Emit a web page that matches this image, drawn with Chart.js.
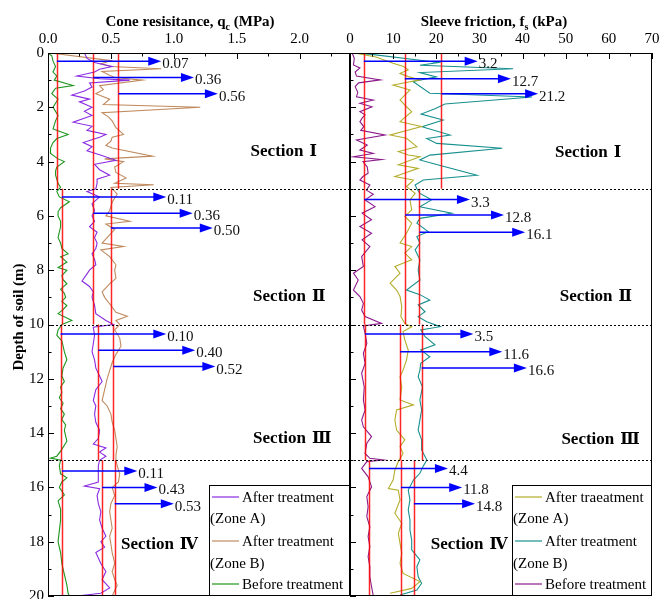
<!DOCTYPE html>
<html><head><meta charset="utf-8">
<script src="https://cdn.jsdelivr.net/npm/chart.js@4.4.1/dist/chart.umd.min.js"></script>
<style>
html,body{margin:0;padding:0;background:#fff;}
#wrap{position:relative;width:660px;height:599px;background:#fff;}
canvas{position:absolute;left:0;top:0;}
</style></head><body>
<div id="wrap"><canvas id="c1" width="660" height="599"></canvas><canvas id="c2" width="660" height="599"></canvas></div>
<script>
// ---------------- DATA ----------------
// depth sections (m)
const sectionTops = [0, 5, 10, 15];
const sectionBottoms = [5, 10, 15, 20];
const sectionWord = 'Section';
const sectionNumerals = ['Ⅰ', 'Ⅱ', 'Ⅲ', 'Ⅳ'];

// Cone resistance qc (MPa) profiles: [depth m, value]
const qcZoneA = [[0,0.29],[0.2,0.31],[0.35,0.37],[0.5,0.51],[0.6,0.41],[0.7,0.37],[0.85,0.23],[0.95,0.41],[1.0,0.65],[1.1,0.33],[1.25,0.35],[1.4,0.29],[1.55,0.19],[1.7,0.33],[1.8,0.25],[2.0,0.35],[2.15,0.29],[2.3,0.35],[2.55,0.2],[2.7,0.35],[2.85,0.31],[3.0,0.46],[3.1,0.41],[3.3,0.28],[3.45,0.35],[3.6,0.31],[3.75,0.41],[3.95,0.54],[4.1,0.37],[4.3,0.41],[4.5,0.49],[4.65,0.39],[4.8,0.39],[5.0,0.38],
 [5.1,0.31],[5.3,0.41],[5.55,0.35],[5.8,0.37],[6.0,0.35],[6.2,0.37],[6.4,0.33],[6.6,0.39],[6.8,0.37],[7.0,0.39],[7.2,0.38],[7.4,0.35],[7.6,0.37],[7.8,0.38],[8.0,0.33],[8.2,0.3],[8.4,0.27],[8.6,0.33],[8.8,0.36],[9.0,0.35],[9.3,0.37],[9.6,0.38],[9.85,0.46],[10.0,0.52],
 [10.1,0.36],[10.4,0.37],[10.7,0.36],[11.0,0.35],[11.3,0.37],[11.6,0.38],[11.9,0.41],[12.1,0.43],[12.4,0.38],[12.8,0.36],[13.0,0.38],[13.3,0.37],[13.6,0.38],[13.9,0.41],[14.2,0.4],[14.4,0.36],[14.55,0.46],[14.7,0.41],[14.85,0.46],[15.0,0.41],
 [15.2,0.4],[15.5,0.4],[15.8,0.4],[15.95,0.29],[16.05,0.41],[16.3,0.39],[16.6,0.4],[16.9,0.42],[17.2,0.41],[17.5,0.43],[17.8,0.46],[18.0,0.42],[18.2,0.45],[18.4,0.38],[18.6,0.4],[18.8,0.42],[19.1,0.46],[19.4,0.43],[19.7,0.49],[19.9,0.42],[20.0,0.23]];

const qcZoneB = [[0,0.02],[0.28,0.5],[0.4,0.42],[0.5,0.5],[0.58,0.9],[0.68,0.43],[0.8,0.48],[0.9,0.53],[1.0,0.75],[1.2,0.41],[1.35,0.44],[1.5,0.38],[1.7,0.49],[1.9,0.44],[2.0,1.21],[2.2,0.43],[2.35,0.48],[2.5,0.51],[2.75,0.54],[3.0,0.6],[3.1,0.51],[3.25,0.5],[3.4,0.46],[3.5,0.51],[3.8,0.83],[3.9,0.45],[4.0,0.6],[4.2,0.53],[4.4,0.54],[4.6,0.62],[4.8,0.53],[4.85,0.84],[4.95,0.5],[5.0,0.51],
 [5.2,0.55],[5.5,0.51],[5.8,0.49],[6.0,0.46],[6.2,0.65],[6.3,0.46],[6.5,0.53],[6.7,0.49],[7.0,0.43],[7.13,0.6],[7.25,0.42],[7.5,0.49],[7.8,0.54],[8.0,0.53],[8.3,0.54],[8.5,0.49],[8.8,0.43],[9.0,0.45],[9.3,0.5],[9.55,0.54],[9.7,0.63],[9.85,0.54],[10.0,0.57],
 [10.2,0.53],[10.5,0.57],[10.8,0.58],[11.1,0.54],[11.4,0.51],[11.7,0.49],[12.0,0.47],[12.4,0.45],[12.8,0.43],[13.0,0.47],[13.3,0.5],[13.6,0.51],[13.9,0.53],[14.2,0.54],[14.5,0.55],[14.8,0.54],[15.0,0.54],
 [15.2,0.55],[15.5,0.57],[15.8,0.56],[16.0,0.51],[16.3,0.53],[16.6,0.5],[16.9,0.49],[17.2,0.5],[17.5,0.51],[17.8,0.49],[18.1,0.5],[18.4,0.51],[18.8,0.53],[19.1,0.51],[19.4,0.53],[19.6,0.55],[19.8,0.53],[20.0,0.51]];

const qcBefore = [[0,0.0],[0.1,0.03],[0.3,0.04],[0.5,0.06],[0.7,0.04],[0.85,0.07],[1.0,0.05],[1.2,0.2],[1.3,0.06],[1.5,0.03],[1.7,0.08],[1.85,0.06],[2.0,0.04],[2.15,0.06],[2.3,0.08],[2.5,0.06],[2.65,0.05],[2.8,0.04],[3.0,0.16],[3.15,0.07],[3.3,0.04],[3.5,0.02],[3.7,0.02],[3.9,0.08],[4.0,0.13],[4.2,0.07],[4.35,0.06],[4.5,0.06],[4.65,0.07],[4.8,0.08],[4.95,0.1],
 [5.1,0.07],[5.3,0.09],[5.48,0.17],[5.7,0.1],[5.85,0.08],[6.0,0.08],[6.2,0.1],[6.4,0.1],[6.6,0.09],[6.8,0.08],[7.0,0.1],[7.2,0.11],[7.4,0.16],[7.5,0.1],[7.7,0.15],[7.9,0.08],[8.0,0.15],[8.2,0.11],[8.35,0.12],[8.5,0.15],[8.7,0.1],[8.85,0.13],[9.0,0.14],[9.15,0.11],[9.3,0.15],[9.45,0.12],[9.6,0.08],[9.85,0.19],[10.0,0.11],
 [10.2,0.08],[10.4,0.07],[10.6,0.11],[10.8,0.12],[11.0,0.13],[11.3,0.15],[11.6,0.12],[11.9,0.11],[12.1,0.13],[12.3,0.1],[12.5,0.11],[12.7,0.09],[12.9,0.12],[13.1,0.1],[13.3,0.13],[13.5,0.11],[13.7,0.14],[13.9,0.13],[14.1,0.14],[14.3,0.15],[14.6,0.11],[14.85,0.07],[14.92,0.02],[15.0,0.1],
 [15.2,0.09],[15.5,0.1],[15.65,0.15],[15.8,0.11],[16.0,0.09],[16.28,0.13],[16.5,0.08],[16.8,0.1],[17.2,0.1],[17.6,0.09],[18.0,0.08],[18.4,0.1],[18.8,0.11],[19.2,0.13],[19.6,0.15],[19.9,0.16],[20.0,0.17]];

// Sleeve friction fs (kPa) profiles: [depth m, value]
const fsZoneA = [[0,1],[0.15,6],[0.38,10],[0.5,12.4],[0.62,13.5],[0.75,11.6],[0.87,13.5],[0.99,16.2],[1.18,10],[1.36,13.9],[1.73,11.6],[1.98,13.1],[2.16,14.3],[2.53,11.6],[2.71,16.6],[3.02,9.3],[3.14,13.1],[3.45,15.5],[3.63,11.2],[3.76,13.5],[3.82,16.2],[4.12,11.2],[4.25,15.8],[4.55,10.4],[4.68,14.7],[4.92,13.1],
 [5.17,15.1],[5.41,13.9],[5.78,14.3],[6.02,12.7],[6.27,14.3],[6.64,13.1],[7.0,11.6],[7.13,14.3],[7.37,12.7],[7.62,14.3],[7.86,10.4],[8.11,11.6],[8.48,9.3],[8.73,10.8],[8.97,11.6],[9.34,12],[9.71,11.8],[9.96,12.7],[10.08,14.3],[10.26,12.3],
 [10.57,12.7],[10.94,13.5],[11.31,13.1],[11.68,12.3],[11.92,11.6],[12.3,12],[12.78,11.6],[12.96,14.7],[13.15,10.8],[13.52,10.4],[13.89,10.8],[14.25,12.7],[14.5,11.6],[14.75,12.3],[15.05,11.2],
 [15.36,10.4],[15.73,10],[16.04,8.9],[16.1,11.2],[16.46,11.6],[16.95,10.4],[17.32,12],[17.69,11.2],[18.06,11.6],[18.43,12],[18.8,11.6],[19.17,12.3],[19.47,16.2],[19.72,14.3],[19.9,9.3]];

const fsZoneB = [[0,1],[0.05,5],[0.35,20.5],[0.45,16.2],[0.58,37.8],[0.72,16.2],[0.88,20],[1.05,14.6],[1.48,18.5],[1.62,42.2],[1.88,22],[2.05,19.7],[2.25,16.5],[2.47,21.6],[2.72,16.7],[3.02,23.2],[3.15,17.8],[3.33,20.1],[3.51,35.3],[3.76,18.5],[3.94,16.2],[4.06,19],[4.5,29.4],[4.68,17],[4.86,15.1],[5.0,15.5],
 [5.17,16.2],[5.41,18.9],[5.66,16.2],[5.9,23.6],[6.09,16.2],[6.27,15.5],[6.58,18.1],[6.76,15.5],[7.0,16.2],[7.25,15.1],[7.62,16.2],[7.99,15.8],[8.36,16.2],[8.73,13.1],[8.9,16.2],[9.1,18.5],[9.28,15.8],[9.53,17.4],[9.71,15.8],[9.9,17.8],[10.08,20.9],[10.2,16.4],
 [10.45,17.4],[10.75,19.7],[10.94,16.4],[11.19,18.5],[11.43,16.4],[11.68,16.2],[11.92,15.8],[12.3,16.8],[12.78,16.2],[13.15,16.6],[13.52,16.2],[13.89,15.8],[14.25,16.6],[14.62,16.6],[14.99,17.8],[15.24,16.9],
 [15.48,16.2],[15.73,14.7],[16.1,13.5],[16.46,13.9],[16.83,13.5],[17.2,13.9],[17.57,13.9],[17.94,14.3],[18.3,14.3],[18.67,16.2],[18.92,15.5],[19.29,15.8],[19.53,16.6],[19.78,15.5],[19.96,11.6]];

const fsBefore = [[0,0.5],[0.2,1],[0.44,0.8],[0.55,2.3],[0.7,1.2],[0.85,1.5],[0.99,7],[1.1,2],[1.24,1.2],[1.45,1.8],[1.61,1.5],[1.73,5.4],[1.85,2.3],[1.98,5.1],[2.16,2.3],[2.28,3.5],[2.4,2.8],[2.53,2.3],[2.71,3.2],[2.85,2.5],[3.02,8.1],[3.2,1.5],[3.39,4],[3.57,2.3],[3.7,5.4],[3.82,0.8],[3.92,7.3],[4.0,3],[4.2,4],[4.43,4.2],[4.55,3],[4.68,2.3],[4.86,4.6],[5.05,3.8],
 [5.2,5.4],[5.41,3.5],[5.66,5.8],[5.9,2.8],[6.14,5],[6.39,2.3],[6.64,5],[6.88,2.8],[7.13,4.6],[7.5,2.7],[7.86,3.1],[8.11,0.8],[8.36,1.9],[8.73,0.8],[8.97,2.3],[9.22,3.1],[9.47,2.7],[9.71,3.5],[9.96,7.3],[10.05,3.1],
 [10.33,3.5],[10.7,3.9],[11.06,3.1],[11.43,3.5],[11.8,2.7],[12.3,3.3],[12.78,3.1],[13.15,3.5],[13.52,2.7],[13.77,3.1],[14.13,5],[14.37,3.9],[14.75,3.5],[14.93,4.6],[14.99,7.7],[15.05,3.9],[15.3,2.7],
 [15.61,4.2],[15.98,5],[16.34,3.9],[16.71,4.2],[17.08,3.9],[17.45,4.6],[17.81,4.2],[18.18,4.6],[18.55,4.2],[18.92,4.6],[19.29,4.6],[19.66,5],[20.0,5.4]];

// Section averages (red lines) and arrow annotations
const qcAvgBefore = [0.07, 0.11, 0.10, 0.11];
const qcAvgA      = [0.36, 0.36, 0.40, 0.43];
const qcAvgB      = [0.56, 0.50, 0.52, 0.53];
const qcArrowDepthBefore = [0.3, 5.3, 10.35, 15.4];
const qcArrowDepthA      = [0.9, 5.9, 10.95, 16.0];
const qcArrowDepthB      = [1.5, 6.45, 11.55, 16.6];
const qcArrowEndBefore = [0.9, 0.94, 0.94, 0.71];
const qcArrowEndA      = [1.16, 1.15, 1.17, 0.87];
const qcArrowEndB      = [1.35, 1.31, 1.33, 1.0];

const fsAvgBefore = [3.2, 3.3, 3.5, 4.4];
const fsAvgA      = [12.7, 12.8, 11.6, 11.8];
const fsAvgB      = [21.2, 16.1, 16.6, 14.8];
const fsArrowDepthBefore = [0.3, 5.4, 10.35, 15.3];
const fsArrowDepthA      = [0.95, 5.97, 11.0, 16.0];
const fsArrowDepthB      = [1.5, 6.6, 11.6, 16.6];
const fsArrowEndBefore = [29.6, 27.8, 28.6, 22.7];
const fsArrowEndA      = [37.3, 35.7, 35.3, 26];
const fsArrowEndB      = [43.6, 40.6, 41, 29];

// ---------------- DRAWING ----------------
const SERIF = '"Liberation Serif", "Times New Roman", serif';
const toXY = arr => arr.map(p => ({x: p[1], y: p[0]}));

function drawArrow(ctx, x0, x1, y) {
  ctx.save();
  ctx.strokeStyle = '#0000ff'; ctx.fillStyle = '#0000ff'; ctx.lineWidth = 1.5;
  ctx.beginPath(); ctx.moveTo(x0, y); ctx.lineTo(x1 - 10, y); ctx.stroke();
  ctx.beginPath(); ctx.moveTo(x1, y); ctx.lineTo(x1 - 13, y - 4.5); ctx.lineTo(x1 - 13, y + 4.5); ctx.closePath(); ctx.fill();
  ctx.restore();
}

function makePlugin(p) {
  return {
    id: 'panel' + p.id,
    afterDatasetsDraw(chart) {
      const ctx = chart.ctx, xs = chart.scales.x, ys = chart.scales.y, a = chart.chartArea;
      // red section-average lines
      ctx.save();
      ctx.strokeStyle = 'rgba(255,0,0,0.85)'; ctx.lineWidth = 1.5;
      for (let i = 0; i < sectionTops.length; i++) {
        [p.avgBefore, p.avgA, p.avgB].forEach(arr => {
          const x = Math.round(xs.getPixelForValue(arr[i])) + 0.5;
          ctx.beginPath(); ctx.moveTo(x, ys.getPixelForValue(sectionTops[i])); ctx.lineTo(x, ys.getPixelForValue(sectionBottoms[i])); ctx.stroke();
        });
      }
      ctx.restore();
      // dotted section boundaries
      ctx.save();
      ctx.strokeStyle = '#000'; ctx.lineWidth = 1; ctx.setLineDash([2, 2]);
      [5, 10, 15].forEach(d => {
        const y = Math.round(ys.getPixelForValue(d)) + 0.5;
        ctx.beginPath(); ctx.moveTo(a.left, y); ctx.lineTo(a.right, y); ctx.stroke();
      });
      ctx.restore();
      // arrows and labels
      ctx.save();
      ctx.font = '15px ' + SERIF; ctx.fillStyle = '#111'; ctx.textBaseline = 'middle'; ctx.textAlign = 'left';
      for (let i = 0; i < sectionTops.length; i++) {
        [[p.avgBefore, p.depBefore, p.endBefore], [p.avgA, p.depA, p.endA], [p.avgB, p.depB, p.endB]].forEach(g => {
          const y = ys.getPixelForValue(g[1][i]);
          const x0 = xs.getPixelForValue(g[0][i]), x1 = xs.getPixelForValue(g[2][i]);
          drawArrow(ctx, x0, x1, y);
          ctx.fillText(g[0][i].toFixed(p.digits), x1 + 1, y + 3);
        });
      }
      ctx.restore();
    },
    afterDraw(chart) {
      const ctx = chart.ctx, xs = chart.scales.x, ys = chart.scales.y, a = chart.chartArea;
      ctx.save();
      ctx.strokeStyle = '#000'; ctx.lineWidth = 1;
      // inner tick marks
      for (let v = 0; v <= p.xmax + 1e-9; v += p.xstep / 2) {
        const major = Math.abs(Math.round(v / p.xstep) * p.xstep - v) < 1e-6;
        const x = Math.round(xs.getPixelForValue(v)) + 0.5;
        ctx.beginPath(); ctx.moveTo(x, a.top); ctx.lineTo(x, a.top + (major ? 6 : 3.5)); ctx.stroke();
      }
      for (let d = 0; d <= 20; d += 1) {
        const y = Math.round(ys.getPixelForValue(d)) + 0.5;
        ctx.beginPath(); ctx.moveTo(a.left, y); ctx.lineTo(a.left + (d % 2 === 0 ? 6 : 3.5), y); ctx.stroke();
      }
      // frame
      ctx.strokeRect(a.left + 0.5, a.top + 0.5, a.right - a.left - 1, a.bottom - a.top - 1);
      ctx.restore();

      // axis title with subscript
      ctx.save();
      ctx.fillStyle = '#000'; ctx.textBaseline = 'alphabetic'; ctx.textAlign = 'left';
      const fMain = 'bold 15px ' + SERIF, fSub = 'bold 10px ' + SERIF;
      ctx.font = fMain; const w1 = ctx.measureText(p.title[0]).width, w3 = ctx.measureText(p.title[2]).width;
      ctx.font = fSub; const w2 = ctx.measureText(p.title[1]).width;
      let tx = p.titleX - (w1 + w2 + w3) / 2;
      ctx.font = fMain; ctx.fillText(p.title[0], tx, 26);
      ctx.font = fSub; ctx.fillText(p.title[1], tx + w1, 30);
      ctx.font = fMain; ctx.fillText(p.title[2], tx + w1 + w2, 26);
      ctx.restore();

      if (p.yTitle) {
        ctx.save();
        ctx.translate(19, 317); ctx.rotate(-Math.PI / 2);
        ctx.font = 'bold 15px ' + SERIF; ctx.fillStyle = '#000'; ctx.textAlign = 'center'; ctx.textBaseline = 'middle';
        ctx.fillText(p.yTitle, 0, 0);
        ctx.restore();
      }

      // section labels: word + numeral
      ctx.save();
      ctx.fillStyle = '#000'; ctx.textBaseline = 'middle'; ctx.textAlign = 'left';
      p.secPos.forEach((sp, i) => {
        const x = xs.getPixelForValue(sp[0]), y = ys.getPixelForValue(sp[1]);
        ctx.font = 'bold 17px ' + SERIF;
        const w = ctx.measureText(sectionWord).width;
        ctx.fillText(sectionWord, x, y);
        ctx.font = 'bold 16px "DejaVu Serif", ' + SERIF;
        ctx.fillText(sectionNumerals[i], x + w + 6, y);
      });
      ctx.restore();

      // legend
      const L = p.legend;
      ctx.save();
      ctx.fillStyle = '#fff'; ctx.fillRect(L.x, L.y, L.w, L.h);
      ctx.strokeStyle = '#000'; ctx.lineWidth = 1; ctx.strokeRect(L.x + 0.5, L.y + 0.5, L.w - 1, L.h - 1);
      ctx.font = '15px ' + SERIF; ctx.fillStyle = '#000'; ctx.textBaseline = 'middle'; ctx.textAlign = 'left';
      const rows = [L.y + 12, L.y + 33, L.y + 56, L.y + 78, L.y + 99];
      const ds = chart.data.datasets;
      [0, 1, 2].forEach(k => {
        const y = rows[k * 2];
        ctx.strokeStyle = ds[k].borderColor; ctx.lineWidth = 1.2;
        ctx.beginPath(); ctx.moveTo(L.x + 3, y); ctx.lineTo(L.x + 30, y); ctx.stroke();
        ctx.fillText(p.legendText[k][0], L.x + 33, y + 1);
        if (p.legendText[k][1]) ctx.fillText(p.legendText[k][1], L.x + 1, rows[k * 2 + 1] + 1);
      });
      ctx.restore();
    }
  };
}

function makeChart(id, p, datasets) {
  return new Chart(document.getElementById(id), {
    type: 'scatter',
    data: { datasets },
    options: {
      responsive: false, animation: false, devicePixelRatio: 1,
      layout: { padding: p.padding },
      plugins: { legend: { display: false }, tooltip: { enabled: false }, title: { display: false } },
      elements: { point: { radius: 0 }, line: { borderWidth: 1, tension: 0 } },
      scales: {
        x: {
          type: 'linear', position: 'top', min: 0, max: p.xmax,
          grid: { display: false, drawTicks: false }, border: { display: false },
          ticks: { stepSize: p.xstep, includeBounds: false, color: '#000', padding: 5, font: { family: SERIF, size: 15 },
                   callback: v => p.digits === 2 ? v.toFixed(1) : String(v) },
          afterFit: s => { s.height = 53; s.paddingLeft = 0; s.paddingRight = 0; }
        },
        y: {
          type: 'linear', reverse: true, min: 0, max: 20,
          grid: { display: false, drawTicks: false }, border: { display: false },
          ticks: { display: p.yLabels, stepSize: 2, color: '#000', padding: 4, font: { family: SERIF, size: 15 } },
          afterFit: s => { s.width = p.yWidth; s.paddingTop = 0; s.paddingBottom = 0; }
        }
      }
    },
    plugins: [makePlugin(p)]
  });
}

const lineDs = (data, color) => ({ data: toXY(data), borderColor: color, borderWidth: 1.1, showLine: true, fill: false, pointRadius: 0 });

makeChart('c1', {
  id: 1, padding: { left: 0, right: 310, top: 0, bottom: 3 }, yWidth: 48, yLabels: true,
  xmax: 2.4, xstep: 0.5, digits: 2,
  avgBefore: qcAvgBefore, avgA: qcAvgA, avgB: qcAvgB,
  depBefore: qcArrowDepthBefore, depA: qcArrowDepthA, depB: qcArrowDepthB,
  endBefore: qcArrowEndBefore, endA: qcArrowEndA, endB: qcArrowEndB,
  title: ['Cone resisitance, q', 'c', ' (MPa)'], titleX: 190, yTitle: 'Depth of soil (m)',
  secPos: [[1.61, 3.65], [1.63, 8.98], [1.63, 14.2], [0.58, 18.1]],
  legend: { x: 209, y: 485, w: 141, h: 111 },
  legendText: [['After treatment', '(Zone A)'], ['After treatment', '(Zone B)'], ['Before treatment', '']]
}, [lineDs(qcZoneA, '#8a2be2'), lineDs(qcZoneB, '#c08a5e'), lineDs(qcBefore, '#1e961e')]);

makeChart('c2', {
  id: 2, padding: { left: 340, right: 8, top: 0, bottom: 3 }, yWidth: 10, yLabels: false,
  xmax: 70, xstep: 10, digits: 1,
  avgBefore: fsAvgBefore, avgA: fsAvgA, avgB: fsAvgB,
  depBefore: fsArrowDepthBefore, depA: fsArrowDepthA, depB: fsArrowDepthB,
  endBefore: fsArrowEndBefore, endA: fsArrowEndA, endB: fsArrowEndB,
  title: ['Sleeve friction, f', 's', ' (kPa)'], titleX: 494,
  secPos: [[47.5, 3.68], [48.6, 8.98], [49.0, 14.25], [18.7, 18.1]],
  legend: { x: 512, y: 485, w: 140, h: 111 },
  legendText: [['After traeatment', '(Zone A)'], ['After treatment', '(Zone B)'], ['Before treatment', '']]
}, [lineDs(fsZoneA, '#b5ad2c'), lineDs(fsZoneB, '#17908f'), lineDs(fsBefore, '#8b1a8b')]);
</script>
</body></html>
